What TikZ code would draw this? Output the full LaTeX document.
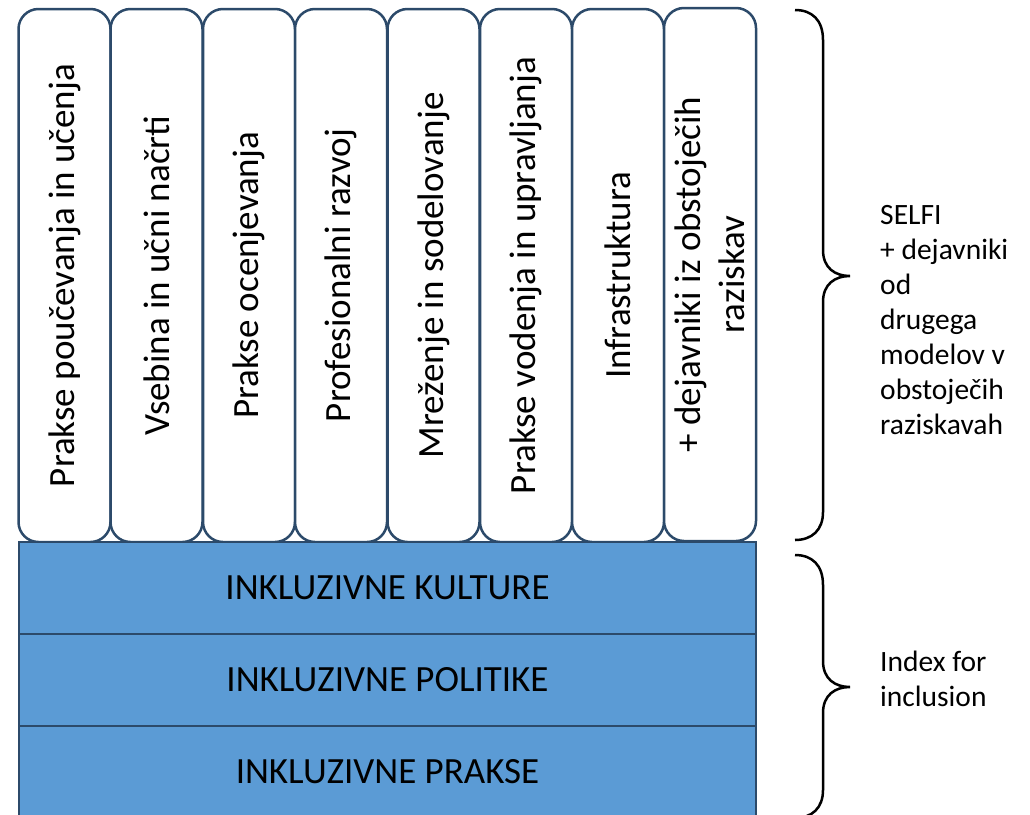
\documentclass[tikz,border=0pt]{standalone}
\usepackage{fontspec}
\setmainfont{Carlito}
\usepackage{tikz}
\definecolor{edgeblue}{RGB}{44,74,106}
\definecolor{barblue}{RGB}{91,155,213}
\tikzstyle{col}=[shape=rectangle,draw=edgeblue,line width=2.5pt,rounded corners=20pt,fill=white,rotate=90,minimum width=533pt,minimum height=92pt,inner sep=0pt,align=center,font=\fontsize{37}{44}\selectfont]
\tikzstyle{bar}=[shape=rectangle,draw=edgeblue,line width=2.5pt,fill=barblue,minimum width=737pt,minimum height=92pt,inner sep=0pt,font=\fontsize{37}{44}\selectfont]
\tikzstyle{note}=[anchor=west,align=left,inner sep=0pt,font=\fontsize{29.5}{35}\selectfont]
\tikzstyle{brace}=[line width=2.5pt,black]

\begin{document}
\begin{tikzpicture}[x=1pt,y=-1pt]
            \useasboundingbox (0,0) rectangle (1030,814);
            \node[col] (poucevanje) at (64.5, 275.5) {Prakse poučevanja in učenja};
            \node[col] (vsebina) at (156.5, 275.5) {Vsebina in učni načrti};
            \node[col] (ocenjevanje) at (249, 275.5) {Prakse ocenjevanja};
            \node[col] (razvoj) at (341, 275.5) {Profesionalni razvoj};
            \node[col] (mrezenje) at (433.5, 275.5) {Mreženje in sodelovanje};
            \node[col] (vodenje) at (526, 275.5) {Prakse vodenja in upravljanja};
            \node[col] (infra) at (618, 275.5) {Infrastruktura};
            \node[col] (dejavniki) at (710, 274.5) {+ dejavniki iz obstoječih\\raziskav};
            \node[bar] (kulture) at (387.5, 588) {INKLUZIVNE KULTURE};
            \node[bar] (politike) at (387.5, 680) {INKLUZIVNE POLITIKE};
            \node[bar] (prakse) at (387.5, 772) {INKLUZIVNE PRAKSE};
            % braces
            \draw[brace] (795,10) .. controls (812,10) and (823,20) .. (823,40) -- (823,250)
                .. controls (823,268) and (835,276) .. (850,276)
                .. controls (835,276) and (823,284) .. (823,302) -- (823,512)
                .. controls (823,530) and (812,540) .. (795,540);
            \draw[brace] (795,555) .. controls (812,555) and (823,565) .. (823,585) -- (823,661)
                .. controls (823,679) and (835,687) .. (850,687)
                .. controls (835,687) and (823,695) .. (823,713) -- (823,790)
                .. controls (823,808) and (812,818) .. (795,818);
            \node[note] (selfi) at (880, 320) {SELFI\\+ dejavniki\\od\\drugega\\modelov v\\obstoječih\\raziskavah};
            \node[note] (index) at (880, 679) {Index for\\inclusion};
        \end{tikzpicture}
\end{document}
